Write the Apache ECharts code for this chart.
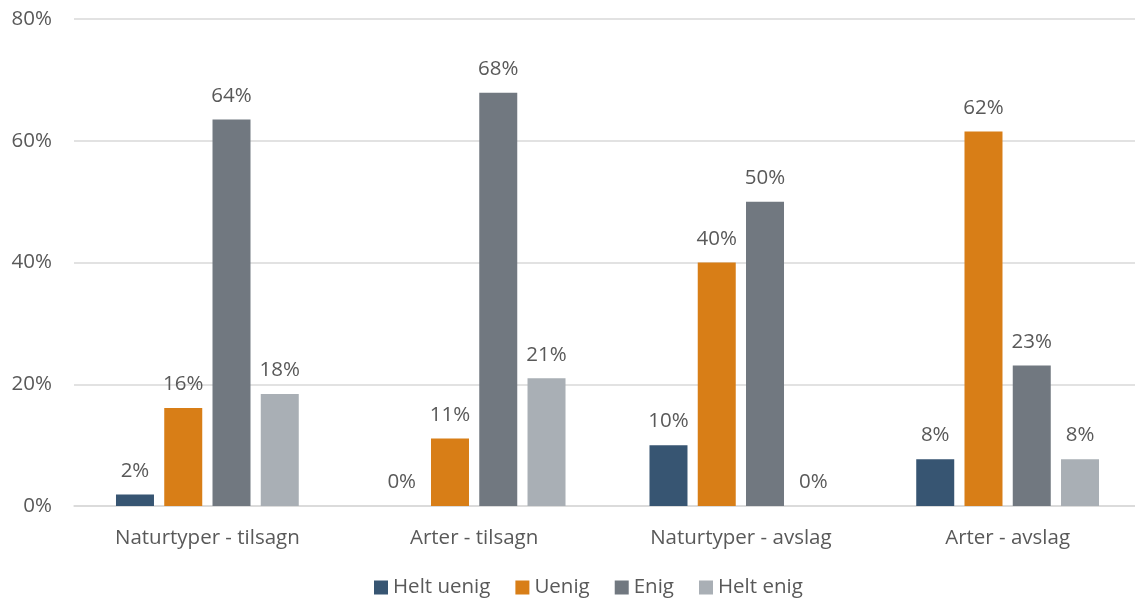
<!DOCTYPE html>
<html>
<head>
<meta charset="utf-8">
<script src="https://cdn.jsdelivr.net/npm/echarts@6/dist/echarts.min.js"></script>
<style>
  html, body { margin: 0; padding: 0; background: #fff; }
  #chart { width: 1135px; height: 603px; }
</style>
</head>
<body>
<div id="chart"></div>
<script>
const categories = ['Naturtyper - tilsagn', 'Arter - tilsagn', 'Naturtyper - avslag', 'Arter - avslag']
const heltUenig = [1.9, 0, 10.0, 7.7]
const uenig = [16.1, 11.1, 40.0, 61.5]
const enig = [63.5, 67.9, 50.0, 23.1]
const heltEnig = [18.4, 21.0, 0, 7.7]
const yTicks = [0, 20, 40, 60, 80]

const textColor = '#595959'
const fontFamily = '"Open Sans", Lato, sans-serif'

const seriesDefs = [
  { name: 'Helt uenig', data: heltUenig, color: '#375572' },
  { name: 'Uenig', data: uenig, color: '#D87E17' },
  { name: 'Enig', data: enig, color: '#717880' },
  { name: 'Helt enig', data: heltEnig, color: '#A9AFB5' }
]

const chart = echarts.init(document.getElementById('chart'))
chart.setOption({
  animation: false,
  textStyle: { fontFamily: fontFamily },
  grid: { left: 74, right: -6, top: 19, bottom: 97, outerBoundsMode: 'none', containLabel: false },
  legend: {
    left: 369,
    bottom: 0,
    itemWidth: 14,
    itemHeight: 14,
    itemGap: 25,
    itemStyle: { borderWidth: 0 },
    icon: 'rect',
    textStyle: { color: textColor, fontSize: 20.5, fontFamily: fontFamily }
  },
  xAxis: {
    type: 'category',
    data: categories,
    axisTick: { show: false },
    axisLine: { lineStyle: { color: '#D9D9D9', width: 1.5 } },
    axisLabel: { color: textColor, fontSize: 20.5, margin: 22, fontFamily: fontFamily }
  },
  yAxis: {
    type: 'value',
    min: yTicks[0],
    max: yTicks[yTicks.length - 1],
    interval: 20,
    axisLabel: { color: textColor, fontSize: 20.5, margin: 22, formatter: v => v + '%', fontFamily: fontFamily },
    splitLine: { lineStyle: { color: '#D9D9D9', width: 1.5 } },
    axisLine: { show: false },
    axisTick: { show: false }
  },
  series: seriesDefs.map(s => ({
    name: s.name,
    type: 'bar',
    data: s.data,
    barWidth: 38,
    barGap: '27%',
    itemStyle: { color: s.color },
    label: {
      show: true,
      position: 'top',
      distance: 13,
      color: textColor,
      fontSize: 20.5,
      fontFamily: fontFamily,
      formatter: p => Math.round(p.value) + '%'
    }
  }))
})
</script>
</body>
</html>
